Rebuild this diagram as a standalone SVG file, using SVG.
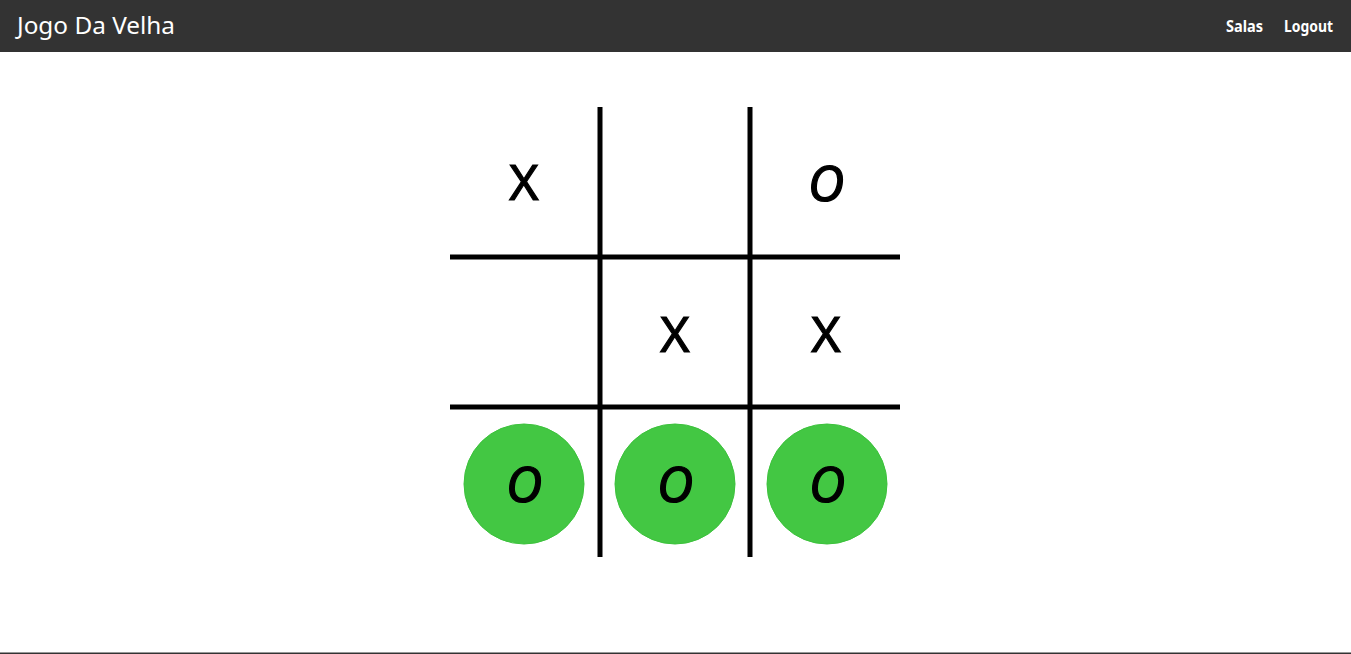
<svg xmlns="http://www.w3.org/2000/svg" width="1351" height="654" viewBox="0 0 1351 654">
  <style>
    .nav { fill: #333333; }
    .navtxt { fill: #ffffff; font-family: "Comic Sans MS", "Noto Sans", "DejaVu Sans", sans-serif; }
    .line { fill: #000000; }
    .win { fill: #43c743; stroke: #3cc23c; stroke-width: 1; }
    .mark { fill: #000000; stroke: #000000; stroke-width: 1.2; font-family: "Comic Sans MS", "Noto Sans", "DejaVu Sans", sans-serif; font-size: 50px; text-anchor: middle; }
    .o { font-style: italic; }
  </style>
  <rect x="0" y="0" width="1351" height="654" fill="#ffffff"/>
  <g id="navbar">
    <rect class="nav" x="0" y="0" width="1351" height="52"/>
    <text class="navtxt" x="17" y="34" font-size="24" textLength="158" lengthAdjust="spacingAndGlyphs">Jogo Da Velha</text>
    <text class="navtxt" x="1226" y="32" font-size="16" font-weight="bold" textLength="37" lengthAdjust="spacingAndGlyphs">Salas</text>
    <text class="navtxt" x="1284" y="32" font-size="16" font-weight="bold" textLength="49" lengthAdjust="spacingAndGlyphs">Logout</text>
  </g>
  <g id="grid">
    <rect class="line" x="597.5" y="107" width="5" height="450"/>
    <rect class="line" x="747.5" y="107" width="5" height="450"/>
    <rect class="line" x="450" y="254.5" width="450" height="5"/>
    <rect class="line" x="450" y="404.5" width="450" height="5"/>
  </g>
  <g id="cell-1"><text class="mark" x="524" y="200">X</text></g>
  <g id="cell-3"><text class="mark o" x="826" y="201">O</text></g>
  <g id="cell-5"><text class="mark" x="675" y="352">X</text></g>
  <g id="cell-6"><text class="mark" x="826" y="352">X</text></g>
  <g id="cell-7"><circle class="win" cx="524" cy="484" r="60"/><text class="mark o" x="524" y="502">O</text></g>
  <g id="cell-8"><circle class="win" cx="675" cy="484" r="60"/><text class="mark o" x="675" y="502">O</text></g>
  <g id="cell-9"><circle class="win" cx="827" cy="484" r="60"/><text class="mark o" x="827" y="502">O</text></g>
  <rect x="0" y="652.5" width="1351" height="1.5" fill="#333333"/>
</svg>
